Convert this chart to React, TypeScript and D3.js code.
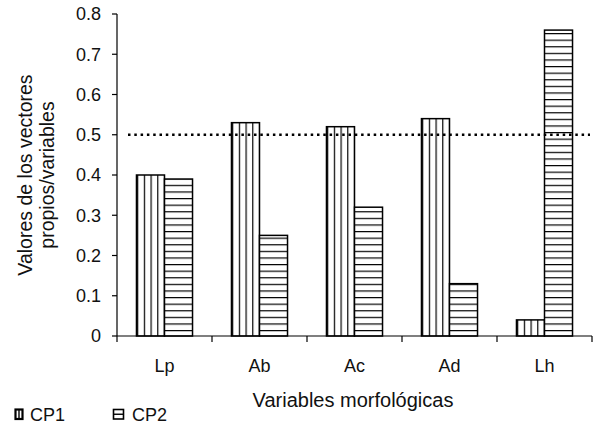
import * as d3 from "d3";

const categories = ["Lp", "Ab", "Ac", "Ad", "Lh"];
const seriesNames = ["CP1", "CP2"];
const cp1Values = [0.4, 0.53, 0.52, 0.54, 0.04];
const cp2Values = [0.39, 0.25, 0.32, 0.13, 0.76];
const yTicks = [0, 0.1, 0.2, 0.3, 0.4, 0.5, 0.6, 0.7, 0.8];
const threshold = 0.5;

const W = 596;
const H = 428;
const left = 117;
const right = 592;
const top = 14;
const bottom = 336;
const font = "'Liberation Sans', Arial, sans-serif";

export default function App() {
    const x0 = d3.scaleBand<string>().domain(categories).range([left, right]).padding(0);
    const bw = x0.bandwidth();
    const x1 = d3
        .scaleBand<string>()
        .domain(seriesNames)
        .range([bw * 0.205, bw * 0.795])
        .padding(0);
    const y = d3.scaleLinear().domain([0, 0.8]).range([bottom, top]);
    const fmt = (d: number) => (d === 0 ? "0" : d3.format(".1f")(d));

    const values: Record<string, number[]> = { CP1: cp1Values, CP2: cp2Values };
    const fills: Record<string, string> = { CP1: "url(#vstripes)", CP2: "url(#hstripes)" };

    return (
        <svg
            width={W}
            height={H}
            style={{ position: "absolute", left: 0, top: 0, background: "#fff" }}
            fontFamily={font}
            fill="#111"
        >
            <defs>
                <pattern id="vstripes" patternUnits="userSpaceOnUse" width={6.7} height={10}>
                    <rect width={6.7} height={10} fill="#fff" />
                    <line x1={0.6} x2={0.6} y1={0} y2={10} stroke="#000" strokeWidth={1.2} />
                </pattern>
                <pattern id="hstripes" patternUnits="userSpaceOnUse" width={10} height={6.6}>
                    <rect width={10} height={6.6} fill="#fff" />
                    <line x1={0} x2={10} y1={0.6} y2={0.6} stroke="#000" strokeWidth={1.2} />
                </pattern>
            </defs>

            {/* bars */}
            {categories.map((c, i) => (
                <g key={c} transform={`translate(${x0(c)},0)`}>
                    {seriesNames.map((s) => (
                        <rect
                            key={s}
                            x={x1(s)}
                            y={y(values[s][i])}
                            width={x1.bandwidth()}
                            height={bottom - y(values[s][i])}
                            fill={fills[s]}
                            stroke="#000"
                            strokeWidth={1.5}
                        />
                    ))}
                </g>
            ))}

            {/* 0.5 reference line */}
            <line
                x1={128}
                x2={590}
                y1={y(threshold)}
                y2={y(threshold)}
                stroke="#000"
                strokeWidth={2.5}
                strokeDasharray="2.5 3.8"
            />

            {/* y axis */}
            <line x1={left} x2={left} y1={top} y2={bottom} stroke="#000" strokeWidth={1.2} />
            {yTicks.map((t) => (
                <g key={t}>
                    <line x1={left - 5} x2={left} y1={y(t)} y2={y(t)} stroke="#000" strokeWidth={1.2} />
                    <text x={101} y={y(t)} dy="0.35em" textAnchor="end" fontSize={18}>
                        {fmt(t)}
                    </text>
                </g>
            ))}

            {/* x axis */}
            <line x1={left} x2={right} y1={bottom} y2={bottom} stroke="#000" strokeWidth={1.2} />
            {[...categories.map((c) => x0(c) as number), right].map((px, i) => (
                <line key={i} x1={px} x2={px} y1={bottom} y2={bottom + 6} stroke="#000" strokeWidth={1.2} />
            ))}
            {categories.map((c) => (
                <text key={c} x={(x0(c) as number) + bw / 2} y={372} textAnchor="middle" fontSize={18}>
                    {c}
                </text>
            ))}

            {/* axis titles */}
            <text x={353} y={407} textAnchor="middle" fontSize={20}>
                Variables morfológicas
            </text>
            <text transform="translate(32,175) rotate(-90)" textAnchor="middle" fontSize={19.5}>
                <tspan x={0} y={0}>Valores de los vectores</tspan>
                <tspan x={0} dy={22}>propios/variables</tspan>
            </text>

            {/* legend */}
            <g>
                <rect x={15.5} y={409.5} width={7} height={9.5} fill="#fff" stroke="#000" strokeWidth={2.2} />
                <line x1={19} x2={19} y1={409.5} y2={419} stroke="#000" strokeWidth={1.4} />
                <text x={30} y={421} fontSize={18}>CP1</text>
                <rect x={113.5} y={409.5} width={10} height={9.5} fill="#fff" stroke="#000" strokeWidth={1.6} />
                <line x1={113.5} x2={123.5} y1={414.25} y2={414.25} stroke="#000" strokeWidth={1.4} />
                <text x={132} y={421} fontSize={18}>CP2</text>
            </g>
        </svg>
    );
}
